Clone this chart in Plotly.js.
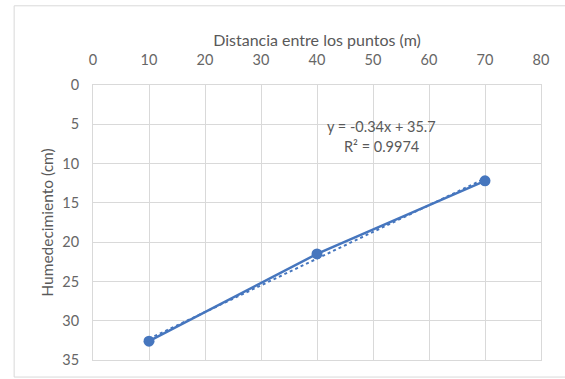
<!DOCTYPE html>
<html><head><meta charset="utf-8">
<script src="https://cdn.plot.ly/plotly-3.0.1.min.js"></script>
<style>html,body{margin:0;padding:0;background:#fff;}#c{width:565px;height:379px;}</style>
</head><body><div id="c"></div>
<script>
const distancia = [10, 40, 70];
const humedecimiento = [32.6, 21.5, 12.2];
const xTicks = [0, 10, 20, 30, 40, 50, 60, 70, 80];
const yTicks = [0, 5, 10, 15, 20, 25, 30, 35];

// least squares trendline from the data
const n = distancia.length;
const mx = distancia.reduce((a,b)=>a+b,0)/n;
const my = humedecimiento.reduce((a,b)=>a+b,0)/n;
let sxy=0, sxx=0, syy=0;
for (let i=0;i<n;i++){sxy+=(distancia[i]-mx)*(humedecimiento[i]-my);sxx+=(distancia[i]-mx)**2;syy+=(humedecimiento[i]-my)**2;}
const slope = sxy/sxx, intercept = my - slope*mx;
const r2 = (sxy*sxy)/(sxx*syy);
const trendY = distancia.map(x=>slope*x+intercept);

const blue = '#4676be';
const font = 'Lato, "Open Sans", sans-serif';

const data = [
  {x: distancia, y: trendY, mode:'lines', line:{color:blue, width:2, dash:'dot'}, hoverinfo:'skip'},
  {x: distancia, y: humedecimiento, mode:'lines+markers', line:{color:blue, width:2.5}, marker:{color:blue, size:11}}
];

const layout = {
  width:565, height:379,
  margin:{l:93, r:24, t:85, b:19},
  showlegend:false,
  paper_bgcolor:'#fff', plot_bgcolor:'#fff',
  font:{family:font, color:'#595959', size:14},
  xaxis:{
    side:'top', range:[0,80], tickvals:xTicks, ticktext:xTicks.map(String),
    showgrid:true, gridcolor:'#d9d9d9', gridwidth:1, zeroline:false,
    showline:true, linecolor:'#d9d9d9', mirror:true,
    ticks:'', ticklabelstandoff:13,
    tickfont:{size:14.5, color:'#666'},
    title:{text:'Distancia entre los puntos (m)', font:{size:16, color:'#595959'}, standoff:0}
  },
  yaxis:{
    range:[35,0], tickvals:yTicks, ticktext:yTicks.map(String),
    showgrid:true, gridcolor:'#d9d9d9', gridwidth:1, zeroline:false,
    showline:true, linecolor:'#d9d9d9', mirror:true,
    ticks:'', ticklabelstandoff:10,
    tickfont:{size:14.5, color:'#666'},
    title:{text:'Humedecimiento (cm)', font:{size:15.5, color:'#595959'}, standoff:4}
  },
  annotations:[
    {x:51.5, y:5.3, xref:'x', yref:'y', showarrow:false, text:'y = ' + slope.toFixed(2) + 'x + ' + intercept.toFixed(1), font:{size:14.5, color:'#595959'}},
    {x:51.5, y:7.8, xref:'x', yref:'y', showarrow:false, text:'R² = ' + r2.toFixed(4), font:{size:14.5, color:'#595959'}}
  ],
  shapes:[
    {type:'rect', xref:'paper', yref:'paper', x0:-0.176, x1:1.2, y0:-0.062, y1:1.288, line:{color:'#d9d9d9', width:1}, fillcolor:'rgba(0,0,0,0)', layer:'below'}
  ]
};
Plotly.newPlot('c', data, layout, {displayModeBar:false, staticPlot:true});
</script>
</body></html>
